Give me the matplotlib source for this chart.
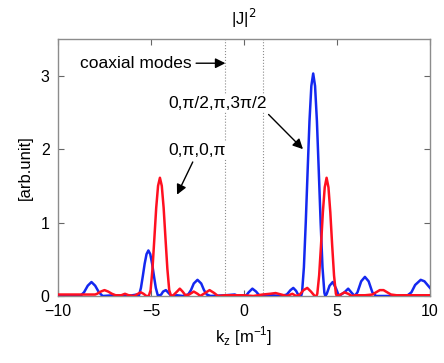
import matplotlib
matplotlib.use("Agg")
import matplotlib.pyplot as plt

plt.rcParams['font.family'] = ['Liberation Sans', 'DejaVu Sans']

# |J|^2 spectra
blue_kz = [-10.0, -9.0, -8.8, -8.6, -8.4, -8.2, -8.0, -7.8, -7.6, -7.0, -6.4, -6.0,
           -5.75, -5.69, -5.64, -5.54, -5.44, -5.34, -5.24, -5.14, -5.04, -4.94,
           -4.84, -4.74, -4.64, -4.59, -4.45, -4.35, -4.2, -4.05, -3.9, -3.6, -3.3,
           -3.0, -2.85, -2.7, -2.5, -2.3, -2.15, -2.0, -1.8, -1.0, -0.5, -0.3, 0.1,
           0.25, 0.45, 0.65, 0.85, 1.5, 2.0, 2.3, 2.5, 2.65, 2.8, 2.95, 3.07, 3.12,
           3.22, 3.32, 3.42, 3.52, 3.62, 3.72, 3.82, 3.92, 4.02, 4.12, 4.22, 4.32,
           4.37, 4.45, 4.6, 4.77, 4.95, 5.1, 5.4, 5.6, 5.8, 5.95, 6.1, 6.3, 6.5, 6.7,
           6.9, 7.1, 8.0, 8.8, 9.0, 9.2, 9.5, 9.7, 9.9, 10.0]
blue_val = [0.01, 0.01, 0.0, 0.05, 0.14, 0.19, 0.14, 0.05, 0.0, 0.01, 0.0, 0.01,
            0.02, 0.0, 0.013, 0.11, 0.27, 0.44, 0.57, 0.62, 0.57, 0.44,
            0.27, 0.11, 0.013, 0.0, 0.02, 0.06, 0.08, 0.04, 0.0, 0.01, 0.0,
            0.02, 0.08, 0.17, 0.22, 0.17, 0.08, 0.02, 0.0, 0.01, 0.02, 0.0, 0.0,
            0.05, 0.1, 0.06, 0.0, 0.01, 0.0, 0.02, 0.08, 0.11, 0.07, 0.0, 0.0, 0.044,
            0.39, 1.0, 1.7, 2.38, 2.86, 3.03, 2.86, 2.38, 1.7, 1.0, 0.39, 0.044,
            0.0, 0.03, 0.14, 0.19, 0.1, 0.0, 0.05, 0.1, 0.04, 0.0, 0.05, 0.2, 0.26, 0.2,
            0.05, 0.0, 0.0, 0.01, 0.05, 0.15, 0.22, 0.2, 0.14, 0.11]

red_kz = [-10.0, -8.0, -7.9, -7.7, -7.5, -7.3, -7.1, -6.9, -6.6, -6.4, -6.2, -5.9,
          -5.7, -5.55, -5.4, -5.25, -5.12, -5.02, -4.92, -4.82, -4.72, -4.62, -4.52,
          -4.42, -4.32, -4.22, -4.12, -4.02, -3.92, -3.8, -3.6, -3.45, -3.3, -3.15,
          -2.95, -2.7, -2.5, -2.35, -2.1, -1.85, -1.6, -1.4, -1.0, 0.0, 0.5, 1.0,
          1.4, 1.7, 2.0, 2.3, 2.6, 2.8, 3.0, 3.2, 3.4, 3.6, 3.8, 3.89, 3.94, 4.04,
          4.14, 4.24, 4.34, 4.44, 4.54, 4.64, 4.74, 4.84, 4.94, 4.99, 5.2, 5.4, 5.6,
          5.8, 6.0, 6.5, 6.9, 7.1, 7.3, 7.5, 7.7, 7.9, 8.2, 10.0]
red_val = [0.02, 0.02, 0.03, 0.06, 0.08, 0.06, 0.03, 0.01, 0.01, 0.03, 0.01, 0.0,
           0.03, 0.05, 0.03, 0.0, 0.0, 0.08, 0.37, 0.78, 1.2, 1.5, 1.61,
           1.5, 1.2, 0.78, 0.37, 0.08, 0.0, 0.01, 0.06, 0.1, 0.06, 0.01,
           0.02, 0.06, 0.03, 0.0, 0.04, 0.08, 0.04, 0.0, 0.01, 0.01, 0.0, 0.02,
           0.03, 0.04, 0.02, 0.0, 0.03, 0.0, 0.02, 0.08, 0.11, 0.06, 0.0, 0.0, 0.03,
           0.28, 0.69, 1.14, 1.48, 1.61, 1.48, 1.14, 0.69, 0.28, 0.03, 0.0, 0.02, 0.05,
           0.03, 0.0, 0.01, 0.01, 0.02, 0.05, 0.08, 0.08, 0.05, 0.02, 0.01, 0.01]

coax_lines = [-1.0, 1.0]
x_ticks = [-10, -5, 0, 5, 10]
y_ticks = [0, 1, 2, 3]

fig = plt.figure(figsize=(4.44, 3.63), dpi=100)
ax = fig.add_axes([0.1306, 0.1846, 0.8379, 0.708])

for xv in coax_lines:
    ax.axvline(xv, color='0.55', linestyle=':', linewidth=0.8, zorder=1)

ax.plot(blue_kz, blue_val, color='#1428f0', linewidth=1.8, zorder=3)
ax.plot(red_kz, red_val, color='#ff1020', linewidth=1.8, zorder=4)

ax.set_xlim(-10, 10)
ax.set_ylim(0, 3.5)
ax.set_xticks(x_ticks)
ax.set_yticks(y_ticks)
ax.tick_params(direction='in', top=True, right=True, labelsize=11.5, length=4,
               color='0.4')
ax.tick_params(axis='x', pad=6)
ax.tick_params(axis='y', pad=6)
for s in ax.spines.values():
    s.set_color('0.55')
    s.set_linewidth(1.0)

ax.set_title('|J|$^2$', fontsize=12, pad=10)
ax.set_ylabel('[arb.unit]', fontsize=12, labelpad=6)
ax.set_xlabel('k$_\\mathregular{z}$ [m$^\\mathregular{-1}$]', fontsize=12, labelpad=4)

bb = dict(facecolor='white', edgecolor='none', pad=1)
arr = dict(arrowstyle='-|>', color='black', lw=1.0, mutation_scale=15,
           shrinkA=2, shrinkB=0)

ax.annotate('coaxial modes', xy=(-1.0, 3.17), xytext=(-8.8, 3.17),
            fontsize=12.5, va='center', ha='left', zorder=5, bbox=bb,
            arrowprops=arr)
ax.annotate('0,\u03c0/2,\u03c0,3\u03c0/2', xy=(3.17, 2.0), xytext=(-1.4, 2.62),
            fontsize=12.5, va='center', ha='center', zorder=5, bbox=bb,
            arrowprops=dict(arr, relpos=(0.98, 0.0)))
ax.annotate('0,\u03c0,0,\u03c0', xy=(-3.6, 1.38), xytext=(-2.5, 1.98),
            fontsize=12.5, va='center', ha='center', zorder=5, bbox=bb,
            arrowprops=dict(arr, relpos=(0.45, 0.0)))

fig.savefig('out.png', dpi=100)
